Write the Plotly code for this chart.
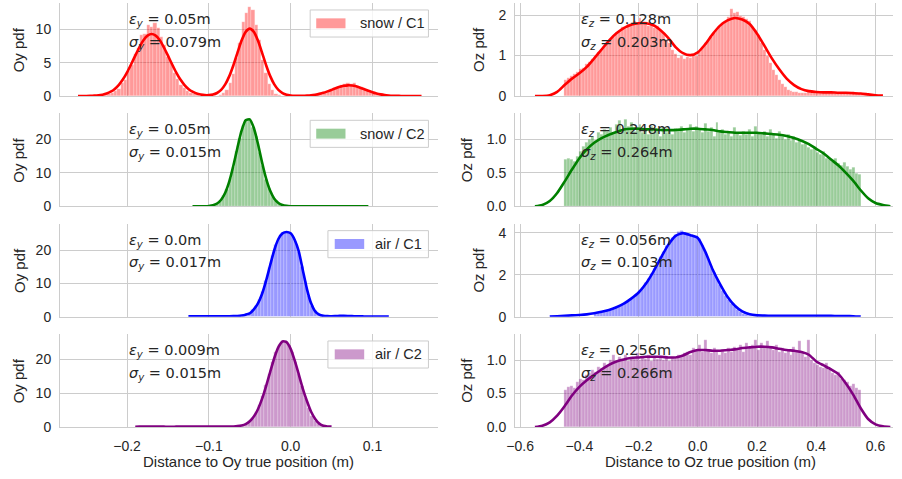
import plotly.graph_objects as go
from plotly.subplots import make_subplots

# ---------------- Oy (left column) ----------------
# histogram bar heights (pdf) and kde curves

# snow / C1
oy_snow_c1_hist_x0, oy_snow_c1_hist_dx = -0.230, 0.004
oy_snow_c1_hist = [
    0.08, 0.12, 0.28, 0.40, 0.80, 1.05, 1.90, 2.40, 3.80, 4.60,
    6.30, 7.20, 9.20, 9.30, 10.60, 10.40, 11.00, 10.20, 8.90, 7.60,
    5.80, 4.90, 3.40, 2.60, 1.65, 1.20, 0.70, 0.45, 0.25, 0.14,
    0.07, 0.03, 0.01, 0.01, 0.02, 0.05, 0.15, 0.40, 0.85, 1.90,
    3.30, 5.70, 8.00, 11.10, 12.50, 13.30, 12.90, 10.60, 8.40, 5.40,
    3.50, 1.75, 0.92, 0.36, 0.15, 0.05, 0.02, 0.00, 0.00, 0.01,
    0.01, 0.02, 0.03, 0.04, 0.06, 0.12, 0.18, 0.31, 0.44, 0.66,
    0.88, 1.16, 1.38, 1.64, 1.75, 1.88, 1.80, 1.95, 1.50, 1.30,
    0.98, 0.78, 0.54, 0.38, 0.23, 0.15, 0.08, 0.05, 0.02, 0.01,
]
oy_snow_c1_kde_x0, oy_snow_c1_kde_dx = -0.260, 0.005
oy_snow_c1_kde = [
    0.00, 0.00, 0.01, 0.02, 0.05, 0.10, 0.20, 0.36, 0.64, 1.06,
    1.68, 2.50, 3.55, 4.76, 6.06, 7.31, 8.35, 9.05, 9.30, 9.05,
    8.35, 7.31, 6.06, 4.76, 3.55, 2.50, 1.68, 1.06, 0.64, 0.36,
    0.21, 0.13, 0.13, 0.21, 0.45, 0.92, 1.74, 2.98, 4.62, 6.51,
    8.31, 9.62, 10.10, 9.62, 8.31, 6.51, 4.62, 2.98, 1.74, 0.92,
    0.44, 0.19, 0.08, 0.03, 0.03, 0.03, 0.06, 0.11, 0.20, 0.32,
    0.48, 0.69, 0.92, 1.16, 1.38, 1.53, 1.60, 1.57, 1.45, 1.25,
    1.02, 0.78, 0.56, 0.38, 0.24, 0.14, 0.08, 0.04, 0.02, 0.01,
    0.00, 0.00, 0.00, 0.00, 0.00,
]

# snow / C2
oy_snow_c2_hist_x0, oy_snow_c2_hist_dx = -0.094, 0.004
oy_snow_c2_hist = [
    0.4, 0.9, 1.7, 3.2, 5.1, 8.4, 11.8, 16.5, 20.2, 24.1, 25.6,
    25.9, 23.7, 20.8, 16.0, 12.2, 8.0, 5.3, 3.0, 1.8, 0.8, 0.4,
]
oy_snow_c2_kde_x0, oy_snow_c2_kde_dx = -0.120, 0.005
oy_snow_c2_kde = [
    0.00, 0.00, 0.01, 0.03, 0.11, 0.32, 0.85, 1.97, 4.07, 7.46,
    12.2, 17.6, 22.6, 25.7, 26.0, 23.4, 18.7, 13.2, 8.30, 4.65,
    2.29, 1.01, 0.40, 0.14, 0.04, 0.01, 0.00, 0.00, 0.00, 0.00,
    0.00, 0.00, 0.00, 0.00, 0.00, 0.00, 0.00, 0.00, 0.00, 0.00,
    0.00, 0.00, 0.00, 0.00,
]

# air / C1
oy_air_c1_hist_x0, oy_air_c1_hist_dx = -0.058, 0.004
oy_air_c1_hist = [
    0.5, 0.8, 1.1, 2.0, 3.2, 5.0, 7.6, 10.9, 14.6, 18.2, 21.6, 23.8, 25.2,
    25.6, 25.3, 24.2, 22.4, 19.4, 15.0, 10.4, 6.4, 3.4, 1.7, 0.8, 0.35,
]
oy_air_c1_kde_x0, oy_air_c1_kde_dx = -0.125, 0.005
oy_air_c1_kde = [
    0.10, 0.10, 0.10, 0.10, 0.10, 0.11, 0.11, 0.12, 0.12, 0.13,
    0.14, 0.16, 0.22, 0.35, 0.60, 1.00, 2.20, 4.00, 6.80, 10.8,
    15.5, 20.0, 23.3, 25.0, 25.4, 25.0, 23.0, 19.5, 13.8, 8.20,
    4.00, 1.60, 0.60, 0.25, 0.15, 0.14, 0.18, 0.24, 0.26, 0.22,
    0.16, 0.12, 0.09, 0.07, 0.05, 0.04, 0.03, 0.02, 0.01, 0.00,
]

# air / C2
oy_air_c2_hist_x0, oy_air_c2_hist_dx = -0.058, 0.004
oy_air_c2_hist = [
    0.4, 0.9, 1.7, 2.8, 4.4, 6.5, 9.2, 12.3, 15.6, 19.2, 22.2, 24.2, 25.4,
    25.5, 24.3, 22.1, 19.3, 15.8, 12.0, 8.6, 5.6, 3.3, 1.8, 0.8, 0.3,
]
oy_air_c2_kde_x0, oy_air_c2_kde_dx = -0.190, 0.005
oy_air_c2_kde = [
    0.08, 0.10, 0.10, 0.11, 0.11, 0.10, 0.10, 0.10, 0.09, 0.09,
    0.10, 0.10, 0.11, 0.11, 0.10, 0.10, 0.10, 0.10, 0.11, 0.12,
    0.12, 0.12, 0.13, 0.14, 0.17, 0.25, 0.44, 0.84, 1.68, 3.08,
    5.25, 8.30, 12.1, 16.3, 20.4, 23.6, 25.3, 25.1, 23.1, 19.6,
    15.5, 11.2, 7.60, 4.50, 2.40, 1.00, 0.35, 0.15, 0.10,
]

# ---------------- Oz (right column) ----------------
# snow / C1
oz_snow_c1_hist_x0, oz_snow_c1_hist_dx = -0.445, 0.01
oz_snow_c1_hist = [
    0.40, 0.44, 0.50, 0.55, 0.60, 0.66, 0.70, 0.78, 0.85, 0.92,
    1.00, 1.08, 1.15, 1.24, 1.32, 1.40, 1.47, 1.55, 1.60, 1.70,
    1.66, 1.78, 1.74, 1.85, 1.80, 1.92, 1.78, 1.84, 1.72, 1.80,
    1.68, 1.74, 1.62, 1.55, 1.38, 1.30, 1.15, 1.05, 0.95, 1.00,
    0.92, 0.97, 0.95, 1.02, 0.98, 1.10, 1.20, 1.30, 1.38, 1.45,
    1.55, 1.62, 1.70, 1.80, 1.85, 1.95, 2.15, 2.05, 2.08, 1.98,
    1.95, 1.90, 1.85, 1.70, 1.62, 1.50, 1.30, 1.15, 0.98, 0.82,
    0.65, 0.52, 0.40, 0.30, 0.22, 0.16, 0.12, 0.10, 0.09, 0.08,
    0.08, 0.07, 0.09, 0.08, 0.08, 0.09, 0.07, 0.08, 0.09, 0.10,
    0.08, 0.09, 0.08, 0.07, 0.08, 0.08, 0.07, 0.06, 0.07, 0.06,
    0.05, 0.05, 0.04, 0.03, 0.02,
]
oz_snow_c1_kde_x0, oz_snow_c1_kde_dx = -0.550, 0.025
oz_snow_c1_kde = [
    0.00, 0.00, 0.02, 0.10, 0.27, 0.43, 0.56, 0.72, 0.93, 1.15,
    1.37, 1.55, 1.68, 1.76, 1.80, 1.80, 1.75, 1.62, 1.44, 1.21,
    1.06, 1.01, 1.08, 1.28, 1.53, 1.74, 1.87, 1.93, 1.89, 1.78,
    1.54, 1.24, 0.93, 0.66, 0.43, 0.27, 0.17, 0.12, 0.10, 0.09,
    0.09, 0.08, 0.08, 0.07, 0.06, 0.04, 0.02, 0.01,
]

# snow / C2
oz_snow_c2_hist_x0, oz_snow_c2_hist_dx = -0.445, 0.01
oz_snow_c2_hist = [
    0.70, 0.72, 0.70, 0.68, 0.75, 0.82, 0.90, 0.95, 1.00, 1.05,
    0.98, 1.10, 1.08, 1.15, 1.12, 1.18, 1.10, 1.22, 1.28, 1.15,
    1.30, 1.20, 1.25, 1.12, 1.18, 1.22, 1.10, 1.16, 1.08, 1.20,
    1.12, 1.15, 1.05, 1.18, 1.10, 1.14, 1.08, 1.16, 1.12, 1.20,
    1.10, 1.15, 1.22, 1.12, 1.20, 1.15, 1.10, 1.24, 1.12, 1.18,
    1.05, 1.26, 1.10, 1.15, 1.08, 1.12, 1.05, 1.18, 1.10, 1.06,
    1.12, 1.08, 1.15, 1.05, 1.20, 1.10, 1.08, 1.12, 1.04, 1.15,
    1.08, 1.02, 1.12, 1.05, 1.00, 1.08, 0.98, 1.05, 0.95, 1.00,
    0.92, 0.95, 0.88, 0.85, 0.88, 0.80, 0.78, 0.82, 0.72, 0.70,
    0.68, 0.72, 0.65, 0.62, 0.66, 0.60, 0.55, 0.58, 0.50, 0.48,
]
oz_snow_c2_kde_x0, oz_snow_c2_kde_dx = -0.550, 0.025
oz_snow_c2_kde = [
    0.00, 0.02, 0.08, 0.20, 0.37, 0.55, 0.72, 0.85, 0.95, 1.02,
    1.07, 1.11, 1.15, 1.16, 1.16, 1.15, 1.15, 1.14, 1.14, 1.14,
    1.15, 1.16, 1.16, 1.15, 1.14, 1.12, 1.11, 1.10, 1.10, 1.10,
    1.10, 1.09, 1.08, 1.07, 1.05, 1.02, 0.98, 0.93, 0.86, 0.79,
    0.70, 0.61, 0.50, 0.38, 0.24, 0.12, 0.05, 0.02, 0.00,
]

# air / C1
oz_air_c1_hist_x0, oz_air_c1_hist_dx = -0.345, 0.01
oz_air_c1_hist = [
    0.17, 0.20, 0.23, 0.27, 0.30, 0.34, 0.39, 0.45, 0.51, 0.58,
    0.66, 0.75, 0.86, 0.96, 1.08, 1.22, 1.40, 1.60, 1.82, 2.05,
    2.30, 2.58, 2.85, 3.12, 3.38, 3.60, 3.78, 3.92, 4.05, 4.10,
    3.98, 3.92, 3.86, 3.82, 3.85, 3.70, 3.40, 3.05, 2.72, 2.40,
    2.08, 1.78, 1.52, 1.25, 1.02, 0.82, 0.64, 0.48, 0.35, 0.24,
    0.16, 0.10, 0.07, 0.05, 0.04,
]
oz_air_c1_kde_x0, oz_air_c1_kde_dx = -0.500, 0.025
oz_air_c1_kde = [
    0.00, 0.02, 0.04, 0.06, 0.08, 0.11, 0.16, 0.23, 0.32, 0.45,
    0.62, 0.86, 1.15, 1.58, 2.15, 2.80, 3.42, 3.85, 3.98, 3.88,
    3.75, 3.10, 2.25, 1.55, 0.95, 0.52, 0.25, 0.11, 0.06, 0.05,
    0.04, 0.04, 0.04, 0.04, 0.04, 0.04, 0.04, 0.04, 0.04, 0.03,
    0.03, 0.02, 0.00,
]

# air / C2
oz_air_c2_hist_x0, oz_air_c2_hist_dx = -0.445, 0.01
oz_air_c2_hist = [
    0.55, 0.60, 0.62, 0.58, 0.68, 0.72, 0.70, 0.78, 0.80, 0.85,
    0.82, 0.90, 0.88, 0.95, 0.92, 1.00, 1.08, 0.98, 1.05, 1.02,
    1.08, 0.98, 1.05, 1.02, 1.10, 1.00, 1.06, 1.02, 1.08, 0.98,
    1.05, 1.02, 1.06, 1.00, 1.04, 0.98, 1.05, 1.02, 1.08, 1.04,
    1.10, 1.12, 1.08, 1.18, 1.15, 1.22, 1.12, 1.30, 1.15, 1.10,
    1.18, 1.12, 1.08, 1.15, 1.10, 1.18, 1.12, 1.20, 1.15, 1.22,
    1.12, 1.25, 1.18, 1.22, 1.30, 1.15, 1.25, 1.20, 1.28, 1.18,
    1.15, 1.22, 1.12, 1.18, 1.10, 1.15, 1.08, 1.20, 1.12, 1.28,
    1.10, 1.05, 1.30, 1.00, 0.95, 0.92, 0.90, 0.88, 0.95, 0.85,
    0.80, 0.78, 0.82, 0.72, 0.70, 0.68, 0.62, 0.65, 0.58, 0.55,
]
oz_air_c2_kde_x0, oz_air_c2_kde_dx = -0.550, 0.025
oz_air_c2_kde = [
    0.00, 0.02, 0.07, 0.17, 0.31, 0.47, 0.60, 0.70, 0.78, 0.86,
    0.93, 0.98, 1.01, 1.03, 1.04, 1.05, 1.05, 1.05, 1.04, 1.04,
    1.07, 1.12, 1.15, 1.15, 1.14, 1.14, 1.15, 1.16, 1.18, 1.19,
    1.20, 1.20, 1.19, 1.17, 1.15, 1.14, 1.12, 1.08, 0.98, 0.92,
    0.86, 0.79, 0.65, 0.48, 0.28, 0.12, 0.04, 0.01, 0.00,
]

labels = ["snow / C1", "snow / C2", "air / C1", "air / C2"]
colors = ["#ff0000", "#008000", "#0000ff", "#800080"]
fills = ["rgba(255,0,0,0.4)", "rgba(0,128,0,0.4)", "rgba(0,0,255,0.4)", "rgba(128,0,128,0.4)"]
oy_eps = ["0.05", "0.05", "0.0", "0.009"]
oy_sigma = ["0.079", "0.015", "0.017", "0.015"]
oz_eps = ["0.128", "0.248", "0.056", "0.256"]
oz_sigma = ["0.203", "0.264", "0.103", "0.266"]

oy_panels = [
    (oy_snow_c1_hist_x0, oy_snow_c1_hist_dx, oy_snow_c1_hist, oy_snow_c1_kde_x0, oy_snow_c1_kde_dx, oy_snow_c1_kde),
    (oy_snow_c2_hist_x0, oy_snow_c2_hist_dx, oy_snow_c2_hist, oy_snow_c2_kde_x0, oy_snow_c2_kde_dx, oy_snow_c2_kde),
    (oy_air_c1_hist_x0, oy_air_c1_hist_dx, oy_air_c1_hist, oy_air_c1_kde_x0, oy_air_c1_kde_dx, oy_air_c1_kde),
    (oy_air_c2_hist_x0, oy_air_c2_hist_dx, oy_air_c2_hist, oy_air_c2_kde_x0, oy_air_c2_kde_dx, oy_air_c2_kde),
]
oz_panels = [
    (oz_snow_c1_hist_x0, oz_snow_c1_hist_dx, oz_snow_c1_hist, oz_snow_c1_kde_x0, oz_snow_c1_kde_dx, oz_snow_c1_kde),
    (oz_snow_c2_hist_x0, oz_snow_c2_hist_dx, oz_snow_c2_hist, oz_snow_c2_kde_x0, oz_snow_c2_kde_dx, oz_snow_c2_kde),
    (oz_air_c1_hist_x0, oz_air_c1_hist_dx, oz_air_c1_hist, oz_air_c1_kde_x0, oz_air_c1_kde_dx, oz_air_c1_kde),
    (oz_air_c2_hist_x0, oz_air_c2_hist_dx, oz_air_c2_hist, oz_air_c2_kde_x0, oz_air_c2_kde_dx, oz_air_c2_kde),
]

oy_yranges = [(13.95, 5), (27.8, 10), (27.9, 10), (27.5, 10)]
oz_yranges = [(2.30, 1), (1.39, 0.5), (4.43, 2), (1.39, 0.5)]

TEXT = "#262626"
GRID = "#cccccc"
SANS = "Liberation Sans, Arial, sans-serif"
MATH = "DejaVu Sans, sans-serif"

fig = make_subplots(rows=4, cols=2, vertical_spacing=0.0409, horizontal_spacing=0.0927)

for i in range(4):
    for col, panels in ((1, oy_panels), (2, oz_panels)):
        hx0, hdx, hist, kx0, kdx, kde = panels[i]
        fig.add_trace(go.Bar(
            x0=hx0, dx=hdx, y=hist, width=hdx,
            marker=dict(color=fills[i], line=dict(width=0.4, color="rgba(255,255,255,0.55)")),
            showlegend=False, hoverinfo="skip"
        ), row=i + 1, col=col)
        fig.add_trace(go.Scatter(
            x0=kx0, dx=kdx, y=kde, mode="lines",
            line=dict(color=colors[i], width=2.6, shape="spline", smoothing=0.6),
            showlegend=False, hoverinfo="skip"
        ), row=i + 1, col=col)

fig.update_layout(
    width=902, height=479,
    margin=dict(l=60, r=9, t=3, b=52),
    plot_bgcolor="white", paper_bgcolor="white",
    bargap=0,
    font=dict(family=SANS, color=TEXT, size=14),
)

axis_common = dict(
    showgrid=True, gridcolor=GRID, gridwidth=1, zeroline=False,
    showline=True, linecolor=GRID, linewidth=1,
    ticks="outside", tickcolor="rgba(0,0,0,0)",
    tickfont=dict(family=SANS, size=14, color=TEXT),
)
fig.update_xaxes(**axis_common, ticklen=6, tickformat=".1f")
fig.update_yaxes(**axis_common, ticklen=5)

for i in range(4):
    last = i == 3
    fig.update_xaxes(range=[-0.282, 0.180], dtick=0.1, tick0=0, showticklabels=last, row=i + 1, col=1)
    fig.update_xaxes(range=[-0.617, 0.659], dtick=0.2, tick0=0, showticklabels=last, row=i + 1, col=2)
    ytop, ystep = oy_yranges[i]
    fig.update_yaxes(range=[0, ytop], dtick=ystep, tick0=0, row=i + 1, col=1)
    ytop, ystep = oz_yranges[i]
    fig.update_yaxes(range=[0, ytop], dtick=ystep, tick0=0,
                     tickformat=".1f" if ystep == 0.5 else None, row=i + 1, col=2)


def axis_ids(row, col):
    n = (row - 1) * 2 + col
    s = "" if n == 1 else str(n)
    return "x" + s, "y" + s


# axis titles placed as text so each sits where matplotlib put it
oz_title_x = [-0.097, -0.129, -0.097, -0.129]
for i in range(4):
    for col, text, xpos in ((1, "Oy pdf", -0.109), (2, "Oz pdf", oz_title_x[i])):
        xa, ya = axis_ids(i + 1, col)
        fig.add_annotation(x=xpos, y=0.5, xref=xa + " domain", yref=ya + " domain",
                           text=text, textangle=-90, showarrow=False,
                           xanchor="center", yanchor="middle",
                           font=dict(family=SANS, size=15, color=TEXT))

for col, text, xpos in ((1, "Distance to Oy true position (m)", 0.5),
                        (2, "Distance to Oz true position (m)", 0.518)):
    xa, ya = axis_ids(4, col)
    fig.add_annotation(x=xpos, y=-0.376, xref=xa + " domain", yref=ya + " domain",
                       text=text, showarrow=False, xanchor="center", yanchor="middle",
                       font=dict(family=SANS, size=15, color=TEXT))

for i in range(4):
    # statistics text
    for col, sub, eps, sig, xpos in ((1, "y", oy_eps[i], oy_sigma[i], -0.2),
                                     (2, "z", oz_eps[i], oz_sigma[i], -0.4)):
        xa, ya = axis_ids(i + 1, col)
        for sym, val, ypos in (("ε", eps, 0.818), ("σ", sig, 0.574)):
            fig.add_annotation(
                x=xpos, y=ypos, xref=xa, yref=ya + " domain",
                text="<i>%s</i><sub><i>%s</i></sub> = %sm" % (sym, sub, val),
                showarrow=False, xanchor="left", yanchor="middle",
                font=dict(family=MATH, size=14.5, color=TEXT),
            )

    # legend box drawn on the Oy panels
    xa, ya = axis_ids(i + 1, 1)
    wide = i < 2
    bx0 = 0.662 if wide else 0.709
    px0, px1 = (0.678, 0.7555) if wide else (0.727, 0.805)
    tx = 0.789 if wide else 0.828
    fig.add_shape(type="rect", xref=xa + " domain", yref=ya + " domain",
                  x0=bx0, x1=0.975, y0=0.634, y1=0.925,
                  line=dict(color=GRID, width=1), fillcolor="rgba(255,255,255,0.8)")
    fig.add_shape(type="rect", xref=xa + " domain", yref=ya + " domain",
                  x0=px0, x1=px1, y0=0.728, y1=0.835,
                  line=dict(width=0), fillcolor=fills[i])
    fig.add_annotation(x=tx, y=0.78, xref=xa + " domain", yref=ya + " domain",
                       text=labels[i], showarrow=False, xanchor="left", yanchor="middle",
                       font=dict(family=SANS, size=14.5, color=TEXT))

# the page body has a default 8px margin; drop it so the figure sits at the origin
fig.write_html("out.html", config={"displayModeBar": False},
               post_script="document.body.style.margin='0';")
